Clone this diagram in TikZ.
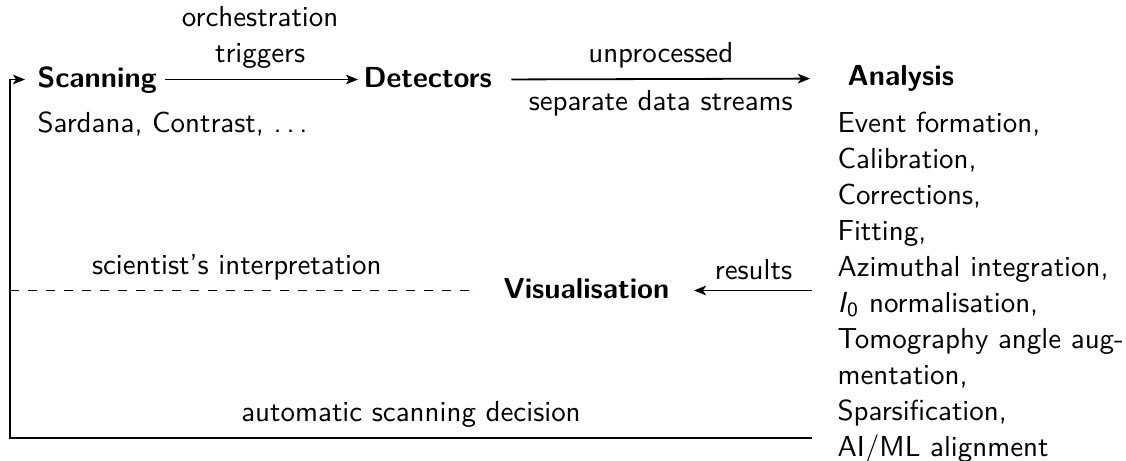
\documentclass[tikz,border=0pt]{standalone}
\usetikzlibrary{arrows.meta}
\newcommand{\spaceddots}{.\kern0.167em.\kern0.167em.}
\begin{document}
\begin{tikzpicture}[x=0.33333pt,y=-0.33333pt,
  font=\fontsize{9.65}{12}\selectfont\sffamily,
  title/.style={font=\fontsize{9.65}{12}\selectfont\sffamily\bfseries, inner sep=0pt,
    anchor=base west, text height=7pt, text depth=2pt},
  desc/.style={inner sep=0pt, align=left},
  lbl/.style={inner sep=3.33pt, align=center},
  conn/.style={line width=0.6pt, -{Stealth[length=4pt,width=3.2pt,inset=1pt]}},
  dashline/.style={line width=0.4pt, dashed}]
\useasboundingbox (0,0) rectangle (1126,461);

% nodes
\node[title] (scan) at (37,87) {Scanning};
\node[title] (det)  at (363,87) {Detectors};
\node[title] (ana)  at (847,86) {Analysis};
\node[title] (vis)  at (503,298) {Visualisation};
\node[desc, anchor=base west] (sard) at (37,132) {Sardana, Contrast, \spaceddots};
\node[desc, anchor=north west] (list) at (837,111)
  {Event formation,\\
   Calibration,\\
   Corrections,\\
   Fitting,\\
   Azimuthal integration,\\
   \textit{I}\textsubscript{0} normalisation,\\
   Tomography angle aug-\\
   mentation,\\
   Sparsification,\\
   AI/ML alignment};
\coordinate (left) at (10,0);
\coordinate (fb) at (812,438);

% connectors
\draw[conn, shorten <=2.67pt, shorten >=1.67pt] (scan.east) --
  node[lbl, above] {orchestration\\triggers} (det.west);
\draw[conn, shorten <=6.33pt, shorten >=12.33pt] (det.east) --
  node[lbl, above, pos=0.475] {unprocessed}
  node[lbl, below, pos=0.475] {separate data streams} (ana.west);
\draw[conn, shorten <=8.33pt, shorten >=8pt] (vis.east -| list.west) --
  node[lbl, above] {results} (vis.east);
\draw[dashline, shorten >=8.33pt] (left |- vis.west) --
  node[lbl, above, pos=0.46] {scientist's interpretation} (vis.west);
\draw[conn, shorten >=4pt] (fb) --
  node[lbl, above] {automatic scanning decision} (fb -| left) --
  (left |- scan.west) -- (scan.west);
\end{tikzpicture}
\end{document}
